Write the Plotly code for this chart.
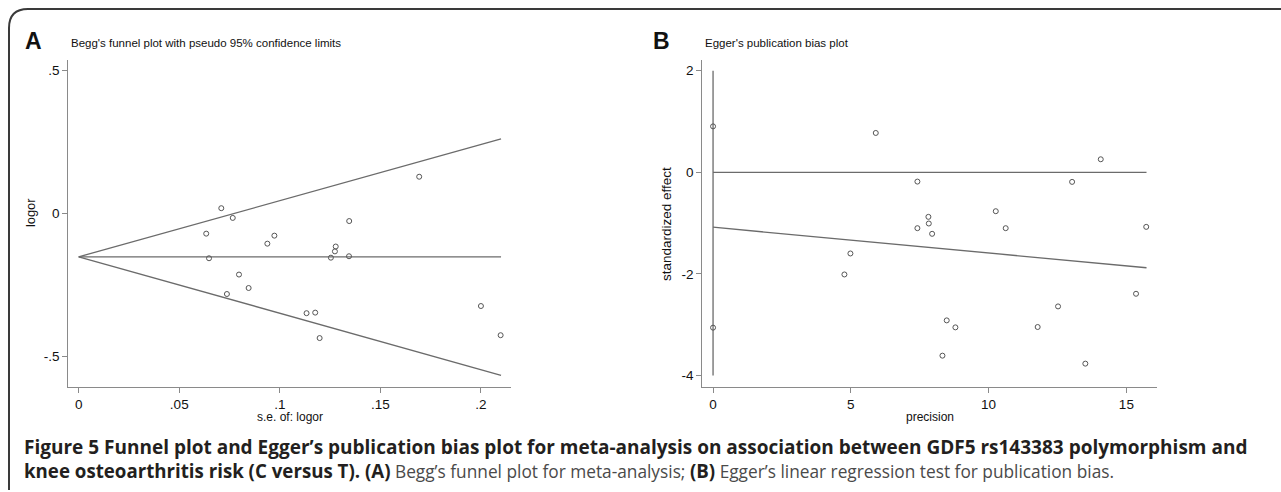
import plotly.graph_objects as go

W, H = 1281, 492

# ---------- Panel A: Begg's funnel plot ----------
se_logor = [0.0709, 0.0766, 0.0634, 0.0648, 0.0797, 0.0845, 0.0737, 0.0938, 0.0973,
            0.1133, 0.1176, 0.1198, 0.1254, 0.1274, 0.1278, 0.1344, 0.1345, 0.1693,
            0.2000, 0.2098]
logor = [0.019, -0.015, -0.070, -0.156, -0.213, -0.260, -0.281, -0.105, -0.077,
         -0.348, -0.346, -0.435, -0.154, -0.132, -0.115, -0.149, -0.026, 0.129,
         -0.323, -0.425]
funnel_se = [0.0, 0.21]
funnel_upper = [-0.151, 0.261]
funnel_center = [-0.151, -0.151]
funnel_lower = [-0.151, -0.565]
a_xticks = [0, 0.05, 0.1, 0.15, 0.2]
a_xticklabels = ["0", ".05", ".1", ".15", ".2"]
a_yticks = [0.5, 0, -0.5]
a_yticklabels = [".5", "0", "-.5"]

# ---------- Panel B: Egger's plot ----------
precision = [0.0, 0.0, 5.905, 4.767, 4.985, 7.416, 7.416, 7.815, 7.83, 7.95, 8.48,
             8.795, 8.325, 10.26, 10.62, 11.78, 12.52, 13.03, 13.51, 14.07, 15.35, 15.72]
std_effect = [0.904, -3.058, 0.774, -2.011, -1.598, -0.183, -1.100, -0.877, -1.008,
              -1.211, -2.915, -3.052, -3.609, -0.766, -1.100, -3.045, -2.640, -0.189,
              -3.766, 0.256, -2.391, -1.074]
zero_line_x = [0.0, 15.73]
zero_line_y = [0.0, 0.0]
reg_line_x = [0.0, 15.73]
reg_line_y = [-1.081, -1.879]
ci_line_x = [0.0, 0.0]
ci_line_y = [2.0, -4.0]
b_xticks = [0, 5, 10, 15]
b_xticklabels = ["0", "5", "10", "15"]
b_yticks = [2, 0, -2, -4]
b_yticklabels = ["2", "0", "-2", "-4"]


def px(x):
    return x / W


def py(y):
    return 1 - y / H


LINE = "#6b6b6b"
MK = "#555555"
FONT = "Arial, Liberation Sans, sans-serif"

fig = go.Figure()

# Panel A traces
for yy in (funnel_upper, funnel_center, funnel_lower):
    fig.add_trace(go.Scatter(x=funnel_se, y=yy, mode="lines",
                             line=dict(color=LINE, width=1.3),
                             xaxis="x", yaxis="y", showlegend=False, hoverinfo="skip"))
fig.add_trace(go.Scatter(x=se_logor, y=logor, mode="markers",
                         marker=dict(symbol="circle-open", size=5, color=MK,
                                     line=dict(width=1, color=MK)),
                         xaxis="x", yaxis="y", showlegend=False))

# Panel B traces
for xx, yy in ((ci_line_x, ci_line_y), (zero_line_x, zero_line_y), (reg_line_x, reg_line_y)):
    fig.add_trace(go.Scatter(x=xx, y=yy, mode="lines",
                             line=dict(color=LINE, width=1.3),
                             xaxis="x2", yaxis="y2", showlegend=False, hoverinfo="skip"))
fig.add_trace(go.Scatter(x=precision, y=std_effect, mode="markers",
                         marker=dict(symbol="circle-open", size=5, color=MK,
                                     line=dict(width=1, color=MK)),
                         xaxis="x2", yaxis="y2", showlegend=False))

axis_common = dict(showline=True, linecolor="#8a8a8a", linewidth=1.3,
                   ticks="outside", ticklen=5, tickwidth=1, tickcolor="#8a8a8a",
                   showgrid=False, zeroline=False,
                   tickfont=dict(family=FONT, size=13.5, color="#111"))

ydom = [py(386.7), py(60)]

fig.update_layout(
    width=W, height=H,
    margin=dict(l=0, r=0, t=0, b=0),
    paper_bgcolor="white", plot_bgcolor="white",
    font=dict(family=FONT, color="#111"),
    xaxis=dict(domain=[px(68.3), px(510.7)], range=[-0.00517, 0.2148],
               tickvals=a_xticks, ticktext=a_xticklabels, anchor="y", **axis_common),
    yaxis=dict(domain=ydom, range=[-0.605, 0.537],
               tickvals=a_yticks, ticktext=a_yticklabels, anchor="x", **axis_common),
    xaxis2=dict(domain=[px(702.3), px(1156.7)], range=[-0.39, 16.1],
                tickvals=b_xticks, ticktext=b_xticklabels, anchor="y2", **axis_common),
    yaxis2=dict(domain=ydom, range=[-4.22, 2.21],
                tickvals=b_yticks, ticktext=b_yticklabels, anchor="x2", **axis_common),
)

# border (rounded top-left corner, open at right)
path = (f"M {px(9)},{py(490)} L {px(9)},{py(28)} "
        f"Q {px(9)},{py(9)} {px(28)},{py(9)} L {px(1281)},{py(9)}")
fig.add_shape(type="path", path=path, xref="paper", yref="paper",
              line=dict(color="#3a3a3a", width=2))

ann = []


def txt(x, y, text, size, bold=False, xanchor="center", angle=0, color="#111"):
    t = f"<b>{text}</b>" if bold else text
    ann.append(dict(x=px(x), y=py(y), xref="paper", yref="paper", text=t,
                    showarrow=False, xanchor=xanchor, yanchor="middle",
                    textangle=angle, font=dict(family=FONT, size=size, color=color)))


txt(23, 41, "A", 23, bold=True, xanchor="left")
txt(69, 43, "Begg's funnel plot with pseudo 95% confidence limits", 11.5, xanchor="left")
txt(31, 213, "logor", 12.8, angle=-90)
txt(290, 416.5, "s.e. of: logor", 12)

txt(651, 41, "B", 23, bold=True, xanchor="left")
txt(703, 43, "Egger's publication bias plot", 11.5, xanchor="left")
txt(666, 224, "standardized effect", 13.5, angle=-90)
txt(930, 416.5, "precision", 12)

CAP = "Open Sans, Noto Sans, sans-serif"
BOLDC = "#231f20"
REGC = "#4a4a4a"
line1 = ("<b>Figure 5 Funnel plot and Egger’s publication bias plot for meta-analysis on "
         "association between GDF5 rs143383 polymorphism and</b>")
line2 = ("<b>knee osteoarthritis risk (C versus T). (A)</b>"
         f"<span style='color:{REGC};font-size:17.3px'> Begg’s funnel plot for meta-analysis; </span>"
         "<b>(B)</b>"
         f"<span style='color:{REGC};font-size:17.3px'> Egger’s linear regression test for publication bias.</span>")
ann.append(dict(x=px(22), y=py(447), xref="paper", yref="paper", text=line1,
                showarrow=False, xanchor="left", yanchor="middle",
                font=dict(family=CAP, size=19, color=BOLDC)))
ann.append(dict(x=px(22), y=py(470), xref="paper", yref="paper", text=line2,
                showarrow=False, xanchor="left", yanchor="middle",
                font=dict(family=CAP, size=18.7, color=BOLDC)))

fig.update_layout(annotations=ann)

fig.write_html("out.html", config={"displayModeBar": False},
               post_script="document.body.style.margin='0';")
